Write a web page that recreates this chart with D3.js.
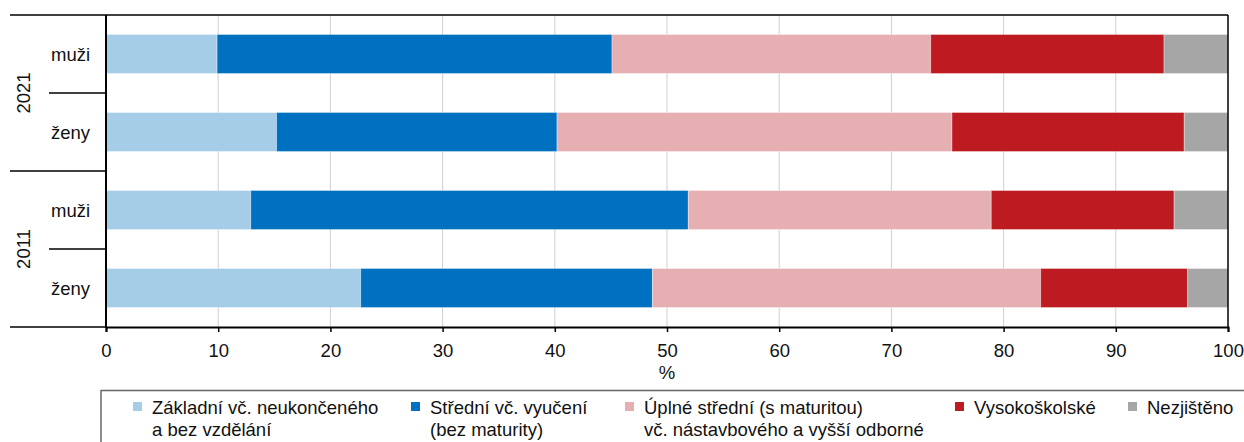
<!DOCTYPE html>
<html>
<head>
<meta charset="utf-8">
<script src="https://cdn.jsdelivr.net/npm/d3@7"></script>
<style>
  body { margin: 0; background: #fff; }
  svg text { font-family: "Liberation Sans", Arial, sans-serif; font-size: 18.5px; fill: #111; }
</style>
</head>
<body>
<svg id="chart" width="1244" height="442"></svg>
<script>
// rows: year groups, each with men and women
const years = ['2021', '2011'];
const sexes = ['muži', 'ženy'];
const seriesNames = [
  'Základní vč. neukončeného\na bez vzdělání',
  'Střední vč. vyučení\n(bez maturity)',
  'Úplné střední (s maturitou)\nvč. nástavbového a vyšší odborné',
  'Vysokoškolské',
  'Nezjištěno'
];
const colors = ['#a6cde8', '#0070c0', '#e6b0b3', '#be1a22', '#a6a6a6'];
// values in %, order: 2021 muži, 2021 ženy, 2011 muži, 2011 ženy
const zakladni = [9.9, 15.2, 12.9, 22.7];
const stredni = [35.2, 25.0, 39.0, 26.0];
const uplne = [28.4, 35.2, 27.0, 34.6];
const vysoko = [20.8, 20.7, 16.3, 13.1];
const nezjisteno = [5.7, 3.9, 4.8, 3.6];
const xTicks = [0, 10, 20, 30, 40, 50, 60, 70, 80, 90, 100];

const svg = d3.select('#chart');
const plotLeft = 106, plotRight = 1228, plotTop = 15, plotBottom = 327;

// build the row table
const allSeries = [zakladni, stredni, uplne, vysoko, nezjisteno];
const rows = [];
years.forEach((yr, i) => {
  sexes.forEach((sx, j) => {
    const k = i * 2 + j;
    const row = { key: yr + ' ' + sx, year: yr, sex: sx };
    allSeries.forEach((s, n) => { row['s' + n] = s[k]; });
    rows.push(row);
  });
});
const keys = allSeries.map((s, n) => 's' + n);

const x = d3.scaleLinear().domain([0, 100]).range([plotLeft, plotRight]);
const y = d3.scaleBand().domain(rows.map(d => d.key)).range([plotTop, plotBottom])
  .paddingInner(0.5).paddingOuter(0.25);
const yGroup = d3.scaleBand().domain(years).range([plotTop, plotBottom]);

// gridlines
svg.append('g').selectAll('line').data(xTicks.slice(1, -1)).join('line')
  .attr('x1', d => x(d)).attr('x2', d => x(d))
  .attr('y1', plotTop).attr('y2', plotBottom)
  .attr('stroke', '#d0d0d0').attr('stroke-width', 1);

// stacked bars
const stacked = d3.stack().keys(keys)(rows);
svg.append('g').selectAll('g').data(stacked).join('g')
  .attr('fill', (d, i) => colors[i])
  .selectAll('rect').data(d => d).join('rect')
  .attr('x', d => x(d[0]))
  .attr('width', d => x(d[1]) - x(d[0]))
  .attr('y', d => y(d.data.key))
  .attr('height', y.bandwidth())
  .attr('stroke', 'rgba(255,255,255,0.35)').attr('stroke-width', 1);

// frame: top and right
svg.append('line').attr('x1', 10).attr('x2', plotRight).attr('y1', plotTop).attr('y2', plotTop)
  .attr('stroke', '#000').attr('stroke-width', 1.5);
svg.append('line').attr('x1', plotRight).attr('x2', plotRight).attr('y1', plotTop).attr('y2', plotBottom)
  .attr('stroke', '#000').attr('stroke-width', 1.5);

// bottom axis
const xAxis = svg.append('g').attr('transform', 'translate(0,' + plotBottom + ')')
  .call(d3.axisBottom(x).tickValues(xTicks).tickSize(5).tickPadding(12));
xAxis.select('.domain').attr('stroke', '#000').attr('stroke-width', 2);
xAxis.selectAll('.tick line').attr('stroke', '#000').attr('stroke-width', 1.5);
xAxis.selectAll('.tick text').attr('font-size', 18.5).attr('font-family', '"Liberation Sans", Arial, sans-serif').attr('fill', '#111');

svg.append('text').attr('x', x(50)).attr('y', 379).attr('text-anchor', 'middle').text('%');

// left axis line
svg.append('line').attr('x1', plotLeft).attr('x2', plotLeft).attr('y1', plotTop).attr('y2', plotBottom + 1)
  .attr('stroke', '#000').attr('stroke-width', 2);

// group separators on the left
years.forEach(yr => {
  svg.append('line').attr('x1', 10).attr('x2', plotLeft)
    .attr('y1', yGroup(yr) + yGroup.bandwidth()).attr('y2', yGroup(yr) + yGroup.bandwidth())
    .attr('stroke', '#000').attr('stroke-width', 1.5);
  svg.append('line').attr('x1', 49).attr('x2', plotLeft)
    .attr('y1', yGroup(yr) + yGroup.bandwidth() / 2).attr('y2', yGroup(yr) + yGroup.bandwidth() / 2)
    .attr('stroke', '#000').attr('stroke-width', 1.5);
  const cy = yGroup(yr) + yGroup.bandwidth() / 2;
  svg.append('text').attr('transform', 'translate(30,' + cy + ') rotate(-90)')
    .attr('text-anchor', 'middle').text(yr);
});

// category labels
svg.append('g').selectAll('text').data(rows).join('text')
  .attr('x', 70.5).attr('y', d => y(d.key) + y.bandwidth() / 2 + 6.5)
  .attr('text-anchor', 'middle').text(d => d.sex);

// legend box
svg.append('line').attr('x1', 101).attr('x2', 1244).attr('y1', 390.5).attr('y2', 390.5)
  .attr('stroke', '#666').attr('stroke-width', 1.5);
svg.append('line').attr('x1', 101).attr('x2', 101).attr('y1', 390).attr('y2', 442)
  .attr('stroke', '#666').attr('stroke-width', 1.5);

const legendX = [133, 411, 625, 955, 1128];
const legend = svg.append('g').selectAll('g').data(seriesNames).join('g')
  .attr('transform', (d, i) => 'translate(' + legendX[i] + ',0)');
legend.append('rect').attr('x', 0).attr('y', 402).attr('width', 9).attr('height', 9)
  .attr('fill', (d, i) => colors[i]);
legend.append('text').attr('x', 19).attr('y', 414)
  .selectAll('tspan').data(d => d.split('\n')).join('tspan')
  .attr('x', 19).attr('dy', (d, i) => i === 0 ? 0 : 22).text(d => d);
</script>
</body>
</html>
